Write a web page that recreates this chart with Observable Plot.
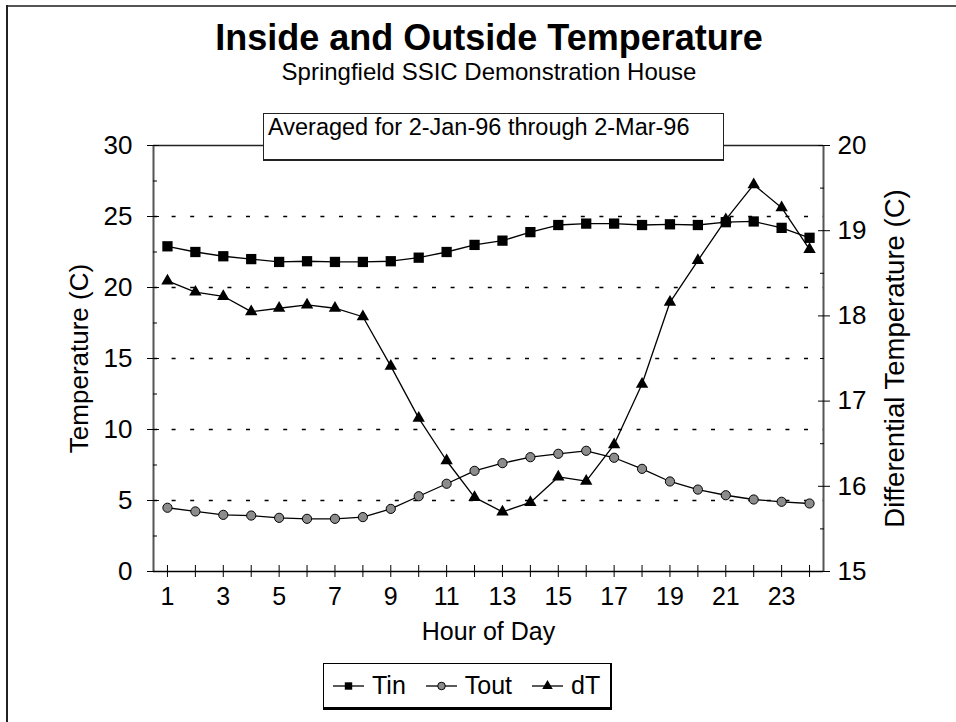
<!DOCTYPE html>
<html><head><meta charset="utf-8">
<script src="https://cdn.jsdelivr.net/npm/d3@7"></script>
<script src="https://cdn.jsdelivr.net/npm/@observablehq/plot@0.6"></script>
<style>
body{margin:0;background:#fff;font-family:"Liberation Sans",Arial,sans-serif;color:#000;}
#page{position:relative;width:956px;height:722px;overflow:hidden;background:#fff;}
#title{position:absolute;left:22px;width:934px;top:18px;text-align:center;font-size:36px;font-weight:bold;line-height:40px;}
#subtitle{position:absolute;left:22px;width:934px;top:58px;text-align:center;font-size:24px;line-height:28px;}
#chart{position:absolute;left:0;top:95px;}
#note{position:absolute;left:263px;top:113px;width:455px;height:45px;padding-left:4px;background:#fff;border:1px solid #222;border-bottom:2px solid #222;border-right:1.5px solid #222;font-size:23.5px;line-height:26px;z-index:2;}
#legend{position:absolute;left:323px;top:663px;height:43px;background:#fff;border:1px solid #000;border-right:2px solid #000;border-bottom:3px solid #000;display:flex;align-items:center;padding:0 10px 0 9px;font-size:25px;z-index:2;}
#legend .item{display:flex;align-items:center;margin-right:20px;}
#legend .item:last-child{margin-right:0;}
#legend svg{margin-right:8px;}
#btop{position:absolute;left:6px;top:5px;width:950px;height:2px;background:#555;z-index:3;}
#bleft{position:absolute;left:6px;top:5px;width:2px;height:717px;background:#222;z-index:3;}
</style></head><body>
<div id="page">
  <div id="btop"></div><div id="bleft"></div>
  <div id="title">Inside and Outside Temperature</div>
  <div id="subtitle">Springfield SSIC Demonstration House</div>
  <div id="chart"></div>
  <div id="note">Averaged for 2-Jan-96 through 2-Mar-96</div>
  <div id="legend"></div>
</div>
<script>
// ---- data ----
const hours = [1,2,3,4,5,6,7,8,9,10,11,12,13,14,15,16,17,18,19,20,21,22,23,24];
const Tin  = [22.9,22.5,22.2,22.0,21.8,21.85,21.8,21.8,21.85,22.1,22.5,23.0,23.3,23.9,24.4,24.5,24.5,24.4,24.45,24.4,24.6,24.65,24.2,23.5];
const Tout = [4.49,4.23,3.99,3.94,3.78,3.71,3.71,3.83,4.41,5.30,6.18,7.09,7.63,8.05,8.29,8.50,8.01,7.23,6.34,5.77,5.37,5.07,4.91,4.79];
const dT   = [18.41,18.28,18.23,18.05,18.09,18.13,18.09,17.99,17.41,16.80,16.30,15.87,15.70,15.81,16.11,16.06,16.49,17.20,18.16,18.65,19.13,19.54,19.27,18.78];
const seriesNames = ["Tin","Tout","dT"];
const leftTicks = [0,5,10,15,20,25,30];
const leftMinor = [2.5,7.5,12.5,17.5,22.5,27.5];
const gridVals = [5,10,15,20,25];
const rightTicks = [15,16,17,18,19,20];
const rightMinor = [15.5,16.5,17.5,18.5,19.5];
const xLabelTicks = [1,3,5,7,9,11,13,15,17,19,21,23];
const yDomain = [0,30];
const rightDomain = [15,20];
const xDomain = [0.5,24.5];

// map the right (dT) axis onto the left scale
const k = (yDomain[1]-yDomain[0])/(rightDomain[1]-rightDomain[0]);
const toLeft = v => (v - rightDomain[0]) * k + yDomain[0];
const fromLeft = v => (v - yDomain[0]) / k + rightDomain[0];

const rows = hours.map((h,i) => ({hour:h, Tin:Tin[i], Tout:Tout[i], dT:dT[i], dTs:toLeft(dT[i])}));
const blank = () => "";

const chart = Plot.plot({
  width: 956, height: 560,
  marginTop: 50, marginBottom: 84, marginLeft: 153, marginRight: 133,
  style: {background:"transparent", fontFamily:"Liberation Sans, Arial, sans-serif", color:"#000", overflow:"visible"},
  x: {domain: xDomain, axis: null},
  y: {domain: yDomain, axis: null},
  marks: [
    Plot.gridY({ticks: gridVals, stroke:"#000", strokeOpacity:1, strokeWidth:1.3, strokeDasharray:"4,14.6"}),
    Plot.ruleY([yDomain[1]], {stroke:"#222", strokeWidth:1.3}),
    Plot.ruleX([xDomain[0]], {stroke:"#555", strokeWidth:2}),
    Plot.ruleX([xDomain[1]], {stroke:"#555", strokeWidth:2}),
    Plot.ruleY([yDomain[0]], {stroke:"#000", strokeWidth:1.5}),
    // x ticks (crossing)
    Plot.axisX({ticks: hours, tickSize: 12, dy: -6, tickFormat: blank, label: null}),
    Plot.axisX({ticks: xLabelTicks, tickSize: 0, tickPadding: 16, fontSize: 25,
      label: "Hour of Day", labelAnchor: "center", labelArrow: "none", labelOffset: 68}),
    // left axis
    Plot.axisY({ticks: leftTicks, tickSize: 12, dx: 6, tickFormat: blank, label: null}),
    Plot.axisY({ticks: leftMinor, tickSize: 4, dx: 4, tickFormat: blank, label: null}),
    Plot.axisY({ticks: leftTicks, tickSize: 0, tickPadding: 21, fontSize: 26,
      label: "Temperature (C)", labelAnchor: "center", labelArrow: "none", labelOffset: 84}),
    // right axis
    Plot.axisY({anchor:"right", ticks: rightTicks.map(toLeft), tickSize: 12, dx: -6, tickFormat: blank, label: null}),
    Plot.axisY({anchor:"right", ticks: rightMinor.map(toLeft), tickSize: 4, dx: -4, tickFormat: blank, label: null}),
    Plot.axisY({anchor:"right", ticks: rightTicks.map(toLeft), tickSize: 0, tickPadding: 14, fontSize: 26,
      tickFormat: d => String(Math.round(fromLeft(d))), label: null}),
    Plot.axisY({anchor:"right", ticks: [], fontSize: 27.5,
      label: "Differential Temperature (C)", labelAnchor: "center", labelArrow: "none", labelOffset: 80}),
    // series
    Plot.line(rows, {x:"hour", y:"Tout", stroke:"#000", strokeWidth:1.3}),
    Plot.line(rows, {x:"hour", y:"Tin", stroke:"#000", strokeWidth:1.3}),
    Plot.line(rows, {x:"hour", y:"dTs", stroke:"#000", strokeWidth:1.3}),
    Plot.dot(rows, {x:"hour", y:"Tout", r:4.6, fill:"#8c8c8c", stroke:"#000", strokeWidth:1}),
    Plot.dot(rows, {x:"hour", y:"Tin", symbol:"square", r:5.8, fill:"#000", stroke:"none"}),
    Plot.dot(rows, {x:"hour", y:"dTs", symbol:"triangle", r:4.6, fill:"#000", stroke:"none"})
  ]
});
document.getElementById("chart").appendChild(chart);

// legend
const symbols = {Tin: {type: d3.symbolSquare, size: 55, fill:"#000"}, Tout: {type: d3.symbolCircle, size: 45, fill:"#8c8c8c"}, dT: {type: d3.symbolTriangle, size: 48, fill:"#000"}};
const legend = d3.select("#legend");
seriesNames.forEach(name => {
  const it = legend.append("div").attr("class","item");
  const s = it.append("svg").attr("width",31).attr("height",16);
  s.append("line").attr("x1",0).attr("x2",31).attr("y1",8).attr("y2",8).attr("stroke","#000").attr("stroke-width",1.3);
  const sy = symbols[name];
  s.append("path").attr("transform","translate(15.5,8)").attr("d", d3.symbol(sy.type, sy.size)())
    .attr("fill", sy.fill).attr("stroke", name==="Tout" ? "#000" : "none");
  it.append("span").text(name);
});
</script>
</body></html>
